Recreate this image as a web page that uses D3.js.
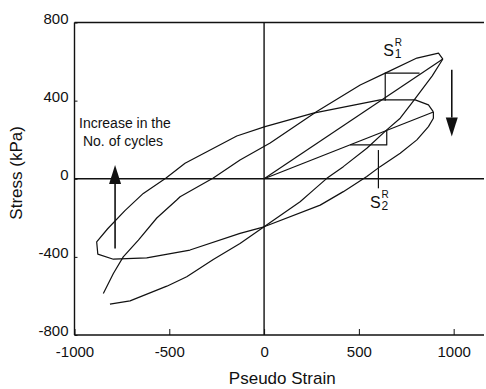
<!DOCTYPE html>
<html>
<head>
<meta charset="utf-8">
<script src="https://cdn.jsdelivr.net/npm/d3@7/dist/d3.min.js"></script>
<style>
  html, body { margin: 0; padding: 0; background: #fff; }
  svg { display: block; }
  text { font-family: "Liberation Sans", Arial, sans-serif; fill: #111; }
</style>
</head>
<body>
<svg id="chart" width="486" height="389"></svg>
<script>
// ---- data ----
const strainTicks = [-1000, -500, 0, 500, 1000];
const stressTicks = [-800, -400, 0, 400, 800];

// Cycle 1 loading branch
const loop1LoadStrain = [-848, -795, -743, -663, -566, -461, -443, -268, -127, 32, 278, 507, 639, 806, 920, 943];
const loop1LoadStress = [-587, -485, -400, -314, -201, -109, -92, 4, 96, 183, 344, 480, 541, 618, 643, 613];
// Cycle 1 unloading branch
const loop1UnloadStrain = [943, 887, 788, 718, 647, 542, 418, 331, 260, 190, 0, -127, -268, -408, -513, -707, -813];
const loop1UnloadStress = [613, 527, 399, 310, 250, 156, 62, 2, -58, -118, -246, -331, -413, -502, -550, -625, -642];
// Later cycle (closed loop)
const loop2Strain = [893, 893, 867, 806, 718, 612, 542, 418, 296, 0, -127, -391, -619, -795, -877, -883, -825, -734, -637, -517, -417, -144, 5, 260, 612, 797, 867, 893];
const loop2Stress = [342, 310, 267, 199, 131, 62, 11, -66, -135, -246, -280, -365, -405, -412, -386, -323, -256, -163, -75, 4, 79, 219, 267, 336, 404, 404, 378, 342];
// Secant lines from origin to peaks
const secantAStrain = [0, 943], secantAStress = [0, 613];
const secantBStrain = [0, 893], secantBStress = [0, 342];
// S1R and S2R construction lines
const s1Strain = [820, 639, 639], s1Stress = [541, 541, 399];
const s2Strain = [454, 647, 647], s2Stress = [173, 173, 250];
const leaderStrain = [603, 603], leaderStress = [147, -49];
// Arrows: [strain, stressStart, stressTip]
const upArrow = [-786, -357, 71];
const downArrow = [990, 558, 216];
const noteLines = ["Increase in the", "No. of cycles"];

// ---- drawing ----
const svg = d3.select("#chart");
const x = d3.scaleLinear().domain([-1000, 1160]).range([74.5, 484]);
const y = d3.scaleLinear().domain([-800, 800]).range([335, 22.5]);
const ink = "#111";
const fmt = d => String(d);

const line = d3.line().x(d => x(d[0])).y(d => y(d[1]));
const zip = (a, b) => a.map((v, i) => [v, b[i]]);

// frame lines
const frame = svg.append("g").attr("stroke", ink).attr("stroke-width", 1.4).attr("fill", "none");
frame.append("path").attr("d", line([[-1000, 800], [1160, 800]]));
frame.append("path").attr("d", line([[-1000, -800], [1160, -800]]));
frame.append("path").attr("d", line([[-1000, -800], [-1000, 800]]));
frame.append("path").attr("d", line([[0, -800], [0, 800]]));
frame.append("path").attr("d", line([[-1000, 0], [1160, 0]]));

// x axis
const xAxis = svg.append("g").attr("transform", `translate(0,${y(-800)})`)
  .call(d3.axisBottom(x).tickValues(strainTicks).tickSize(-6).tickPadding(11).tickFormat(fmt));
xAxis.select(".domain").remove();
xAxis.selectAll("line").attr("stroke", ink).attr("stroke-width", 1);
xAxis.selectAll("text").attr("font-size", 15).attr("font-family", "Liberation Sans, Arial, sans-serif").attr("fill", ink);

// y axis
const yAxis = svg.append("g").attr("transform", `translate(${x(-1000)},0)`)
  .call(d3.axisLeft(y).tickValues(stressTicks).tickSize(-3).tickPadding(6).tickFormat(fmt));
yAxis.select(".domain").remove();
yAxis.selectAll("line").attr("stroke", ink).attr("stroke-width", 1);
yAxis.selectAll("text").attr("font-size", 15).attr("dy", "0.05em").attr("font-family", "Liberation Sans, Arial, sans-serif").attr("fill", ink);

// curves
const curves = svg.append("g").attr("stroke", ink).attr("stroke-width", 1.2).attr("fill", "none").attr("stroke-linejoin", "round");
curves.append("path").attr("d", line(zip(loop1LoadStrain, loop1LoadStress)));
curves.append("path").attr("d", line(zip(loop1UnloadStrain, loop1UnloadStress)));
curves.append("path").attr("d", line(zip(loop2Strain, loop2Stress)));
curves.append("path").attr("d", line(zip(secantAStrain, secantAStress)));
curves.append("path").attr("d", line(zip(secantBStrain, secantBStress)));
curves.append("path").attr("d", line(zip(s1Strain, s1Stress)));
curves.append("path").attr("d", line(zip(s2Strain, s2Stress)));
curves.append("path").attr("d", line(zip(leaderStrain, leaderStress)));

// arrows
function arrow(a) {
  const ax = x(a[0]), y0 = y(a[1]), yt = y(a[2]);
  const dir = yt < y0 ? 1 : -1; // 1 = pointing up
  const headLen = 19, half = 6;
  svg.append("line").attr("x1", ax).attr("x2", ax).attr("y1", y0).attr("y2", yt + dir * headLen)
    .attr("stroke", ink).attr("stroke-width", 1.6);
  svg.append("path")
    .attr("d", `M${ax},${yt} L${ax - half},${yt + dir * headLen} L${ax + half},${yt + dir * headLen} Z`)
    .attr("fill", ink);
}
arrow(upArrow);
arrow(downArrow);

// note text
svg.append("text").attr("x", x(-734)).attr("y", y(258)).attr("text-anchor", "middle")
  .attr("font-size", 14).text(noteLines[0]);
svg.append("text").attr("x", x(-744)).attr("y", y(166)).attr("text-anchor", "middle")
  .attr("font-size", 14).text(noteLines[1]);

// S labels
function sLabel(sx, sy, sub) {
  const t = svg.append("text").attr("x", x(sx)).attr("y", y(sy)).attr("font-size", 16);
  t.append("tspan").text("S");
  const px = x(sx) + 11.5;
  svg.append("text").attr("x", px).attr("y", y(sy) - 10).attr("font-size", 10).text("R");
  svg.append("text").attr("x", px).attr("y", y(sy) + 2).attr("font-size", 12).text(sub);
}
sLabel(628, 626, "1");
sLabel(559, -148, "2");

// axis titles
svg.append("text").attr("x", x(-1000) + (x(1160) - x(-1000)) / 2 + 3).attr("y", 384)
  .attr("text-anchor", "middle").attr("font-size", 17).text("Pseudo Strain");
svg.append("text").attr("transform", `translate(22,${y(30)}) rotate(-90)`)
  .attr("text-anchor", "middle").attr("font-size", 17).text("Stress (kPa)");
</script>
</body>
</html>
